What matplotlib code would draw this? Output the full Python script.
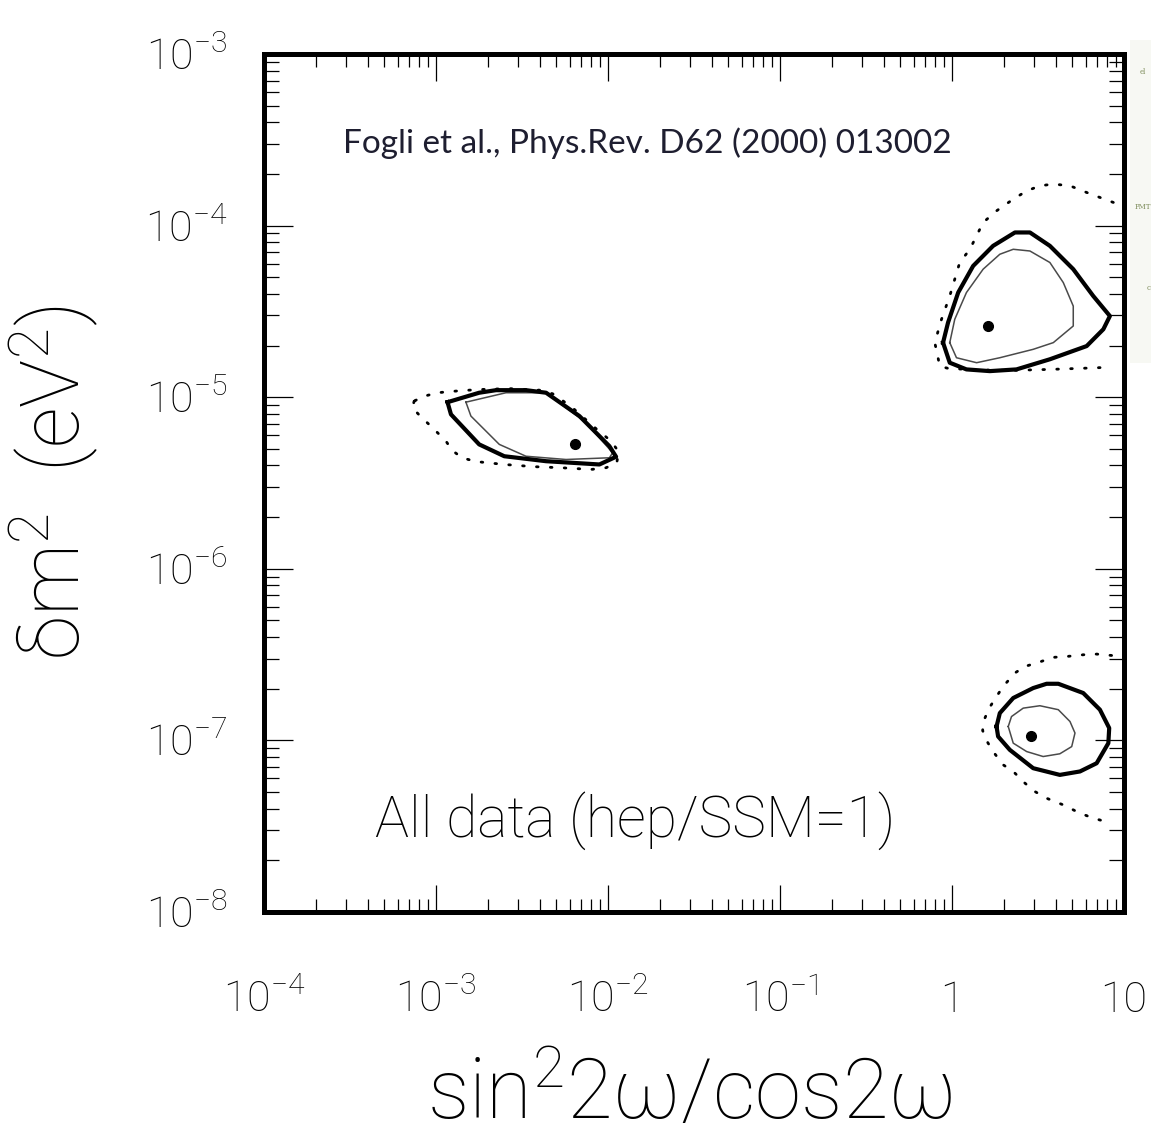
import numpy as np
import matplotlib
matplotlib.use("Agg")
import matplotlib.pyplot as plt
from matplotlib.ticker import FixedLocator, LogLocator, NullFormatter, FuncFormatter
from matplotlib.patches import Rectangle
from matplotlib.transforms import ScaledTranslation

# ---------- allowed regions, log10 coordinates ----------
# x = log10(sin^2 2w / cos 2w), y = log10(dm^2 / eV^2)
# cl90 = thin line, cl95 = thick line, cl99 = dotted

# small mixing angle region
sma_cl95_x = [-2.933, -2.913, -2.749, -2.603, -2.360, -2.050, -1.953, -1.992, -2.166, -2.360, -2.477, -2.651, -2.749]
sma_cl95_y = [-5.029, -5.100, -5.275, -5.344, -5.373, -5.392, -5.347, -5.285, -5.110, -4.974, -4.959, -4.959, -4.974]
sma_cl90_x = [-2.826, -2.797, -2.632, -2.477, -2.244, -1.992, -1.973, -2.127, -2.283, -2.360, -2.593]
sma_cl90_y = [-5.029, -5.110, -5.275, -5.344, -5.363, -5.353, -5.324, -5.149, -5.032, -4.974, -4.974]
sma_cl99_x = [-3.127, -3.137, -3.092, -3.020, -2.942, -2.907, -2.849, -2.768, -2.603, -2.428, -2.273, -2.098,
              -2.011, -1.949, -1.938, -1.982, -2.069, -2.196, -2.273, -2.322, -2.399, -2.574, -2.739, -2.826,
              -2.907, -2.991, -3.079]
sma_cl99_y = [-5.023, -5.061, -5.110, -5.178, -5.256, -5.309, -5.353, -5.375, -5.392, -5.405, -5.411, -5.421,
              -5.411, -5.382, -5.318, -5.256, -5.184, -5.071, -5.013, -4.980, -4.959, -4.950, -4.955, -4.960,
              -4.966, -4.974, -4.997]

# large mixing angle region
lma_cl95_x = [-0.052, -0.023, 0.036, 0.123, 0.239, 0.366, 0.453, 0.569, 0.705, 0.821, 0.918, 0.880, 0.783,
              0.569, 0.375, 0.220, 0.084, -0.013]
lma_cl95_y = [-4.682, -4.565, -4.390, -4.235, -4.118, -4.040, -4.040, -4.118, -4.254, -4.410, -4.527, -4.604,
              -4.702, -4.779, -4.838, -4.848, -4.838, -4.799]
lma_cl90_x = [-0.013, 0.016, 0.084, 0.181, 0.278, 0.356, 0.453, 0.569, 0.647, 0.705, 0.705, 0.589, 0.472,
              0.278, 0.143, 0.026]
lma_cl90_y = [-4.682, -4.546, -4.390, -4.254, -4.167, -4.138, -4.148, -4.215, -4.332, -4.469, -4.585, -4.682,
              -4.721, -4.770, -4.799, -4.770]
lma_cl99_x = [0.938, 0.860, 0.783, 0.686, 0.589, 0.511, 0.434, 0.356, 0.259, 0.181, 0.104, 0.045, -0.013,
              -0.061, -0.100, -0.071, -0.023, 0.143, 0.336, 0.569, 0.744, 0.907]
lma_cl99_y = [-3.865, -3.836, -3.807, -3.768, -3.758, -3.768, -3.798, -3.846, -3.914, -3.982, -4.138, -4.215,
              -4.410, -4.546, -4.682, -4.819, -4.832, -4.841, -4.844, -4.838, -4.832, -4.826]

# LOW region
low_cl95_x = [0.259, 0.278, 0.356, 0.472, 0.550, 0.618, 0.763, 0.860, 0.914, 0.909, 0.841, 0.744, 0.627,
              0.472, 0.336, 0.268]
low_cl95_y = [-6.919, -6.841, -6.753, -6.695, -6.670, -6.670, -6.724, -6.821, -6.928, -7.016, -7.133, -7.181,
              -7.201, -7.162, -7.055, -6.977]
low_cl90_x = [0.327, 0.346, 0.414, 0.511, 0.618, 0.686, 0.715, 0.696, 0.627, 0.530, 0.434, 0.356]
low_cl90_y = [-6.919, -6.861, -6.812, -6.798, -6.821, -6.890, -6.957, -7.036, -7.078, -7.094, -7.065, -7.016]
low_cl99_x = [0.928, 0.841, 0.763, 0.676, 0.589, 0.492, 0.424, 0.366, 0.297, 0.259, 0.216, 0.187, 0.178,
              0.201, 0.239, 0.297, 0.356, 0.424, 0.482, 0.550, 0.647, 0.744, 0.821, 0.928]
low_cl99_y = [-6.505, -6.497, -6.501, -6.510, -6.516, -6.549, -6.569, -6.607, -6.686, -6.744, -6.812, -6.880,
              -6.942, -7.001, -7.065, -7.142, -7.181, -7.249, -7.298, -7.337, -7.376, -7.424, -7.453, -7.483]

# best-fit points
best_x = [-2.192, 0.210, 0.459]
best_y = [-5.274, -4.585, -6.973]

x_major = [-4, -3, -2, -1, 0, 1]
y_major = [-8, -7, -6, -5, -4, -3]

ref_text = "Fogli et al., Phys.Rev. D62 (2000) 013002"
panel_text = "All data (hep/SSM=1)"

# ---------- style ----------
plt.rcParams['font.family'] = ['Roboto', 'DejaVu Sans']
plt.rcParams['font.weight'] = 'light'
plt.rcParams['axes.labelweight'] = 'light'
plt.rcParams['mathtext.fontset'] = 'custom'
plt.rcParams['mathtext.rm'] = 'Roboto:light'
plt.rcParams['mathtext.it'] = 'Roboto:light'
plt.rcParams['mathtext.sf'] = 'Roboto:light'


def closed(xs, ys):
    xs = np.append(xs, xs[0])
    ys = np.append(ys, ys[0])
    return 10.0 ** xs, 10.0 ** ys


def opened(xs, ys):
    return 10.0 ** np.asarray(xs), 10.0 ** np.asarray(ys)


fig = plt.figure(figsize=(11.51, 11.46), dpi=100)
ax = fig.add_axes([264 / 1151, 1 - 912 / 1146, 860 / 1151, 858 / 1146])
ax.set_xscale('log')
ax.set_yscale('log')
ax.set_xlim(1e-4, 10)
ax.set_ylim(1e-8, 1e-3)

thick = dict(color='black', lw=3.0, solid_joinstyle='round')
thin = dict(color='#4a4a4a', lw=1.1)
dots = dict(color='black', lw=2.0, linestyle=(0, (0.6, 4.4)), dash_capstyle='round')

# 99% contours (the LMA and LOW ones run off the grid on the right)
ax.plot(*closed(sma_cl99_x, sma_cl99_y), **dots)
ax.plot(*opened(lma_cl99_x, lma_cl99_y), **dots)
ax.plot(*opened(low_cl99_x, low_cl99_y), **dots)

for cx, cy in [(sma_cl90_x, sma_cl90_y), (lma_cl90_x, lma_cl90_y), (low_cl90_x, low_cl90_y)]:
    ax.plot(*closed(cx, cy), **thin)
for cx, cy in [(sma_cl95_x, sma_cl95_y), (lma_cl95_x, lma_cl95_y), (low_cl95_x, low_cl95_y)]:
    ax.plot(*closed(cx, cy), **thick)

ax.plot(10.0 ** np.array(best_x), 10.0 ** np.array(best_y), 'o', color='black', ms=7)

# ---------- axes ----------
for sp in ax.spines.values():
    sp.set_linewidth(3.6)


def fmt(v, pos):
    e = int(round(np.log10(v)))
    if e == 0:
        return '1'
    if e == 1:
        return '10'
    return r'$10^{%d}$' % e


ax.xaxis.set_major_locator(FixedLocator([10.0 ** e for e in x_major]))
ax.yaxis.set_major_locator(FixedLocator([10.0 ** e for e in y_major]))
ax.xaxis.set_minor_locator(LogLocator(base=10, subs=np.arange(2, 10)))
ax.yaxis.set_minor_locator(LogLocator(base=10, subs=np.arange(2, 10)))
ax.xaxis.set_major_formatter(FuncFormatter(fmt))
ax.yaxis.set_major_formatter(FuncFormatter(fmt))
ax.xaxis.set_minor_formatter(NullFormatter())
ax.yaxis.set_minor_formatter(NullFormatter())

ax.tick_params(which='both', direction='in', top=True, right=True, width=0.9, labelsize=31)
ax.tick_params(axis='x', which='major', length=19.5, pad=72)
ax.tick_params(axis='x', which='minor', length=9.5)
ax.tick_params(axis='y', which='major', length=21, pad=26)
ax.tick_params(axis='y', which='minor', length=10.5)

for lab in ax.get_xticklabels():
    lab.set_va('baseline')
shift = ScaledTranslation(0, -0.16, fig.dpi_scale_trans)
for lab in ax.get_yticklabels():
    lab.set_va('baseline')
    lab.set_transform(lab.get_transform() + shift)

ax.set_xlabel(r'sin$^2$2$\omega$/cos2$\omega$', fontsize=60, va='center')
ax.xaxis.set_label_coords(0.495, -0.2133)
ax.set_ylabel(r'$\delta$m$^2$  (eV$^2$)', fontsize=58, va='center')
ax.yaxis.set_label_coords(-0.245, 0.5)

ax.text(0.092, 0.896, ref_text, transform=ax.transAxes, ha='left', va='center',
        fontsize=24, family='Lato', weight='normal', color='#1e1e30')
ax.text(0.431, 0.0874, panel_text, transform=ax.transAxes, ha='center', va='baseline',
        fontsize=41)

# strip of a neighbouring slide at the right edge
fig.add_artist(Rectangle((1130 / 1151, 1 - 363 / 1146), 21 / 1151, 323 / 1146,
                         transform=fig.transFigure, facecolor='#f7f8f3', edgecolor='none'))
for s, px, py in [('el', 1140, 72), ('PMT', 1135, 207), ('c', 1147, 288)]:
    fig.text(px / 1151, 1 - py / 1146, s, fontsize=5, color='#7d8c5a', family='DejaVu Serif',
             va='center', weight='normal')

fig.savefig('out.png', dpi=100)
